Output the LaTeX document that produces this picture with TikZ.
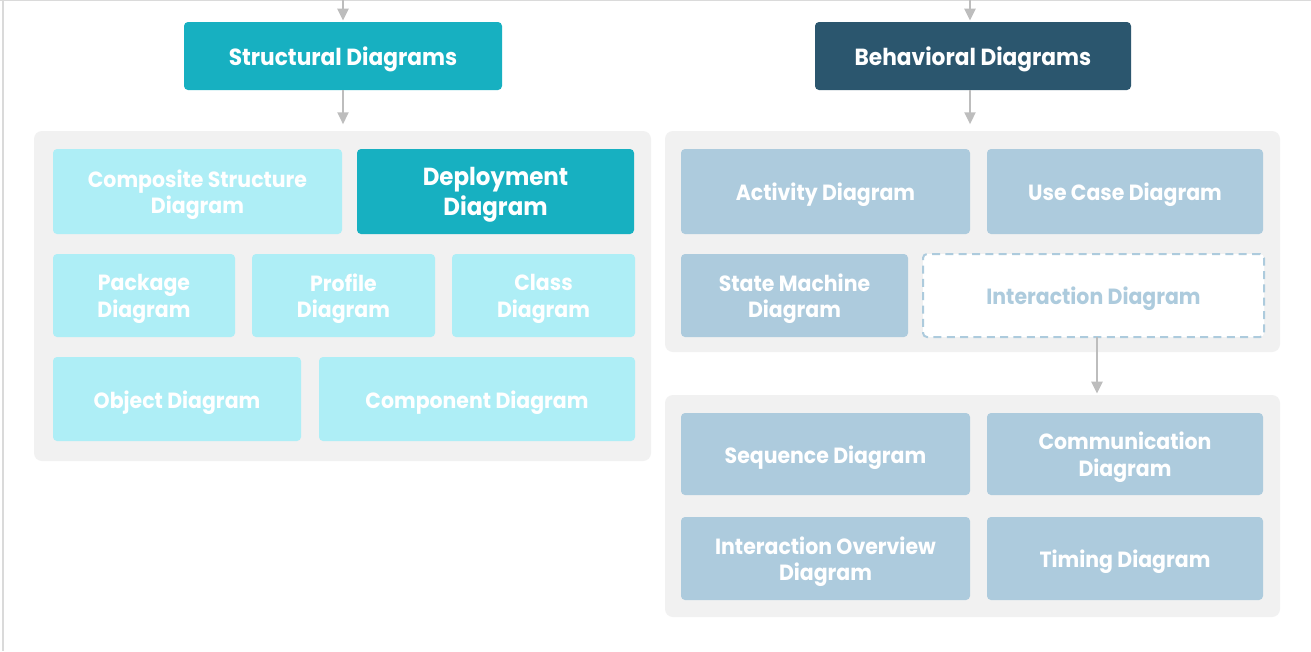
\documentclass[tikz,border=0pt]{standalone}
\usepackage{fontspec}
\setmainfont{Poppins}
\newfontfamily\gfont[FakeStretch=0.93]{Poppins}
\usetikzlibrary{arrows.meta}
\definecolor{tealA}{HTML}{17B0C1}
\definecolor{darkB}{HTML}{2B566E}
\definecolor{cyanL}{HTML}{AEEEF6}
\definecolor{blueG}{HTML}{ADCBDD}
\definecolor{contbg}{HTML}{F1F1F1}
\definecolor{arrG}{HTML}{BDBDBD}
\definecolor{frameG}{HTML}{DADADA}
% shape node #1 from (#2,#3) to (#4,#5), style #6, text #7 (text node #1t)
\newcommand\pbox[7]{%
  \node[#6, minimum width={(#4-#2)*0.75pt}, minimum height={(#5-#3)*0.75pt}] (#1) at ({(#2+#4)/2},{(#3+#5)/2}) {};%
  \node[#6, fill=none, draw=none, yshift=-2.5pt] (#1t) at (#1.center) {#7};}
\begin{document}
\begin{tikzpicture}[x=0.75pt,y=-0.75pt,
  every node/.style={inner sep=0pt, outer sep=0pt, align=center},
  container/.style={rectangle, fill=contbg, rounded corners=6pt},
  header/.style={rectangle, rounded corners=3pt, text=white, font=\gfont\bfseries\fontsize{17.5}{21}\selectfont},
  tbox/.style={rectangle, rounded corners=3pt, text=white, font=\gfont\bfseries\fontsize{16.5}{20}\selectfont},
  cbox/.style={tbox, fill=cyanL},
  bbox/.style={tbox, fill=blueG},
  dbox/.style={tbox, fill=tealA, font=\gfont\bfseries\fontsize{18.5}{22.5}\selectfont},
  dashbox/.style={tbox, fill=white, draw=blueG, line width=1.5pt, dash pattern=on 6pt off 4pt, text=blueG},
  arr/.style={draw=arrG, line width=2.2pt, -{Triangle[width=8pt,length=9pt]}}
]
\useasboundingbox (0,0) rectangle (1311,651);
\fill[white] (0,0) rectangle (1311,651);
\draw[frameG, line width=1pt] (0,0.7) -- (1311,0.7);
\draw[frameG, line width=1pt] (3,0) -- (3,651);

% containers
\pbox{sc}{34}{131}{651}{461}{container}{}
\pbox{bc}{665}{131}{1280}{352}{container}{}
\pbox{ic}{665}{395}{1280}{617}{container}{}

% headers
\pbox{sd}{184}{22}{502}{90}{header, fill=tealA}{Structural Diagrams}
\pbox{bd}{815}{22}{1131}{90}{header, fill=darkB}{Behavioral Diagrams}

% structural
\pbox{cs}{53}{149}{342}{234}{cbox}{Composite Structure\\Diagram}
\pbox{dp}{357}{149}{634}{234}{dbox}{Deployment\\Diagram}
\pbox{pk}{53}{254}{235}{337}{cbox}{Package\\Diagram}
\pbox{pf}{252}{254}{435}{337}{cbox}{Profile\\Diagram}
\pbox{cl}{452}{254}{635}{337}{cbox}{Class\\Diagram}
\pbox{ob}{53}{357}{301}{441}{cbox}{Object Diagram}
\pbox{cp}{319}{357}{635}{441}{cbox}{Component Diagram}

% behavioral
\pbox{ac}{681}{149}{970}{234}{bbox}{Activity Diagram}
\pbox{uc}{987}{149}{1263}{234}{bbox}{Use Case Diagram}
\pbox{sm}{681}{254}{908}{337}{bbox}{State Machine\\Diagram}
\pbox{ia}{923}{254}{1264}{337}{dashbox}{Interaction Diagram}

% interaction
\pbox{sq}{681}{413}{970}{495}{bbox}{Sequence Diagram}
\pbox{cm}{987}{413}{1263}{495}{bbox}{Communication\\Diagram}
\pbox{io}{681}{517}{970}{600}{bbox}{Interaction Overview\\Diagram}
\pbox{tm}{987}{517}{1263}{600}{bbox}{Timing Diagram}

% arrows
\coordinate (t1) at (343,0);
\coordinate (t2) at (970,0);
\draw[arr, shorten >=1pt] (t1) -- (t1 |- sd.north);
\draw[arr, shorten >=1pt] (t2) -- (t2 |- bd.north);
\draw[arr, shorten >=5pt] (t1 |- sd.south) -- (t1 |- sc.north);
\draw[arr, shorten >=5pt] (t2 |- bd.south) -- (t2 |- bc.north);
\coordinate (ib) at (1097,337);
\draw[arr, shorten >=1pt] (ib) -- (ib |- ic.north);
\end{tikzpicture}
\end{document}
